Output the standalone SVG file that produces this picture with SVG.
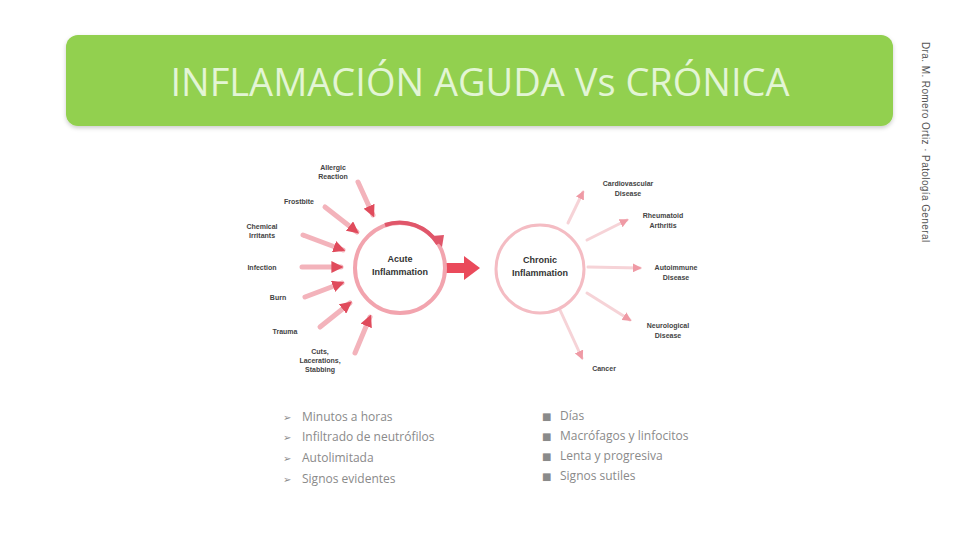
<svg xmlns="http://www.w3.org/2000/svg" width="960" height="540" viewBox="0 0 960 540">
<defs>
<style>
.lbl{font-family:"Liberation Sans",Arial,sans-serif;font-size:7px;font-weight:bold;fill:#444;text-anchor:middle}
.ctr{font-family:"Liberation Sans",Arial,sans-serif;font-size:9px;font-weight:bold;fill:#333;text-anchor:middle}
.bul{font-family:"Open Sans","Liberation Sans",sans-serif;font-size:12px;fill:#8a8a8a}
.bm{font-family:"DejaVu Sans",sans-serif;font-size:10px;fill:#8a8a8a}
.in{stroke:#f3b3bb;stroke-width:5;stroke-linecap:round;fill:none;marker-end:url(#hIn)}
.out{stroke:#f6d3d7;stroke-width:3;stroke-linecap:round;fill:none;marker-end:url(#hOut)}
</style>
<marker id="hIn" viewBox="0 0 10 10" refX="8" refY="5" markerWidth="2.4" markerHeight="2.4" orient="auto">
<path d="M0,0 L10,5 L0,10 Z" fill="#e04b5c"/>
</marker>
<marker id="hOut" viewBox="0 0 10 10" refX="8" refY="5" markerWidth="3" markerHeight="3" orient="auto">
<path d="M0,0 L10,5 L0,10 Z" fill="#ef9aa5"/>
</marker>
<filter id="sh" x="-5%" y="-20%" width="110%" height="140%">
<feDropShadow dx="0" dy="2" stdDeviation="2" flood-color="#000" flood-opacity="0.2"/>
</filter>
</defs>
<rect width="960" height="540" fill="#ffffff"/>

<g id="title">
<rect x="66" y="35" width="827" height="91" rx="12" fill="#92d050" filter="url(#sh)"/>
<text x="480" y="96" font-family="Open Sans,Liberation Sans,sans-serif" font-size="38" fill="#e3f5d5" text-anchor="middle">INFLAMACIÓN AGUDA Vs CRÓNICA</text>
</g>

<g id="side-note">
<text transform="translate(922,42) rotate(90)" font-family="Liberation Sans,Arial,sans-serif" font-size="10" fill="#555" letter-spacing="0.4">Dra. M. Romero Ortiz · Patología General</text>
</g>

<g id="connectors">
<line class="in" x1="358" y1="182" x2="373" y2="215"/>
<line class="in" x1="325" y1="207" x2="357" y2="232"/>
<line class="in" x1="303" y1="235" x2="343" y2="250"/>
<line class="in" x1="302" y1="267" x2="341" y2="267"/>
<line class="in" x1="305" y1="297" x2="342" y2="283"/>
<line class="in" x1="320" y1="327" x2="350" y2="303"/>
<line class="in" x1="355" y1="353" x2="370" y2="317"/>
<line class="out" x1="568" y1="223" x2="583" y2="192"/>
<line class="out" x1="587" y1="240" x2="627" y2="220"/>
<line class="out" x1="588" y1="267" x2="640" y2="268"/>
<line class="out" x1="587" y1="293" x2="630" y2="320"/>
<line class="out" x1="560" y1="310" x2="582" y2="358"/>
<path d="M446,263 L464,263 L464,256 L480,268 L464,280 L464,273 L446,273 Z" fill="#ea4a5b"/>
</g>

<g id="acute">
<circle cx="400" cy="268" r="45" fill="#fff" stroke="#f2a4ae" stroke-width="4"/>
<path d="M385,225 A45,45 0 0 1 438,244" fill="none" stroke="#e0566a" stroke-width="4"/>
<path d="M432,236 L442,247 L444,235 Z" fill="#e0566a"/>
<text class="ctr" x="400" y="262">Acute</text>
<text class="ctr" x="400" y="275">Inflammation</text>
</g>

<g id="chronic">
<circle cx="540" cy="269" r="44" fill="#fff" stroke="#f4bcc3" stroke-width="3"/>
<text class="ctr" x="540" y="263">Chronic</text>
<text class="ctr" x="540" y="276">Inflammation</text>
</g>

<g id="causes">
<text class="lbl" x="333" y="170">Allergic</text>
<text class="lbl" x="333" y="179">Reaction</text>
<text class="lbl" x="299" y="204">Frostbite</text>
<text class="lbl" x="262" y="229">Chemical</text>
<text class="lbl" x="262" y="238">Irritants</text>
<text class="lbl" x="262" y="270">Infection</text>
<text class="lbl" x="278" y="300">Burn</text>
<text class="lbl" x="285" y="334">Trauma</text>
<text class="lbl" x="320" y="354">Cuts,</text>
<text class="lbl" x="320" y="363">Lacerations,</text>
<text class="lbl" x="320" y="372">Stabbing</text>
</g>

<g id="outcomes">
<text class="lbl" x="628" y="186">Cardiovascular</text>
<text class="lbl" x="628" y="196">Disease</text>
<text class="lbl" x="663" y="218">Rheumatoid</text>
<text class="lbl" x="663" y="228">Arthritis</text>
<text class="lbl" x="676" y="270">Autoimmune</text>
<text class="lbl" x="676" y="280">Disease</text>
<text class="lbl" x="668" y="328">Neurological</text>
<text class="lbl" x="668" y="338">Disease</text>
<text class="lbl" x="604" y="371">Cancer</text>
</g>

<g id="acute-list">
<text class="bm" x="283" y="421">➢</text><text class="bul" x="302" y="421">Minutos a horas</text>
<text class="bm" x="283" y="441">➢</text><text class="bul" x="302" y="441">Infiltrado de neutrófilos</text>
<text class="bm" x="283" y="462">➢</text><text class="bul" x="302" y="462">Autolimitada</text>
<text class="bm" x="283" y="483">➢</text><text class="bul" x="302" y="483">Signos evidentes</text>
</g>

<g id="chronic-list">
<text class="bm" x="542" y="420">■</text><text class="bul" x="560" y="420">Días</text>
<text class="bm" x="542" y="440">■</text><text class="bul" x="560" y="440">Macrófagos y linfocitos</text>
<text class="bm" x="542" y="460">■</text><text class="bul" x="560" y="460">Lenta y progresiva</text>
<text class="bm" x="542" y="480">■</text><text class="bul" x="560" y="480">Signos sutiles</text>
</g>
</svg>
